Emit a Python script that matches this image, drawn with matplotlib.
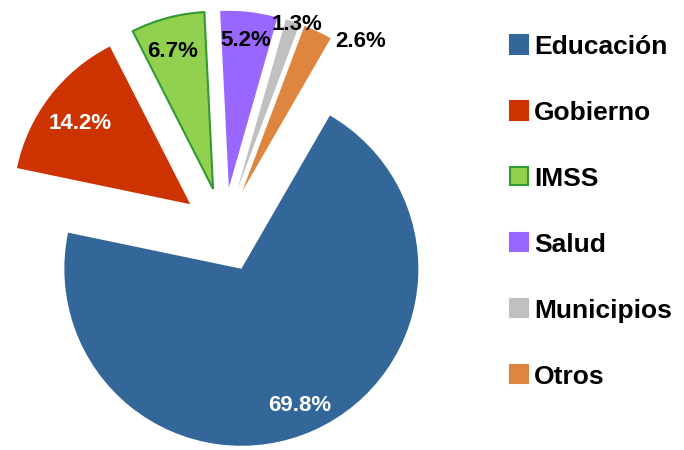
import numpy as np
import matplotlib.pyplot as plt

plt.rcParams['font.family'] = ['Liberation Sans', 'DejaVu Sans']

# datos
categorias = ['Educación', 'Gobierno', 'IMSS', 'Salud', 'Municipios', 'Otros']
porcentajes = [69.8, 14.2, 6.7, 5.2, 1.3, 2.6]
colores = ['#336699', '#CC3300', '#92D050', '#9966FF', '#C0C0C0', '#DE8640']
bordes = ['none', 'none', '#339933', 'none', 'none', 'none']

fig = plt.figure(figsize=(6.84, 4.5), dpi=100)
# 1 unidad = 177 px, centro en (224, 220) px desde abajo
r = 177
a = 1.25
ax = fig.add_axes([(224 - a * r) / 684, (220 - a * r) / 450, 2 * a * r / 684, 2 * a * r / 450])

explode = [0.24] * len(porcentajes)
wedges, _ = ax.pie(porcentajes, colors=colores, startangle=60, counterclock=False,
                   explode=explode, radius=1)
for w, b in zip(wedges, bordes):
    if b != 'none':
        w.set_edgecolor(b)
        w.set_linewidth(1.5)
ax.set_xlim(-a, a)
ax.set_ylim(-a, a)
ax.set_aspect('equal')
ax.axis('off')

# etiquetas: (distancia, desplazamiento angular, color)
pos = [(0.84, -1, 'white'), (0.77, 1, 'white'), (0.81, 1.5, 'black'),
       (0.84, 0, 'black'), (0.99, -1.5, 'black'), (1.08, -13, 'black')]
total = sum(porcentajes)
ang = 60
for w, p, (d, da, c) in zip(wedges, porcentajes, pos):
    mid = ang - p / total * 360 / 2
    ang -= p / total * 360
    cx = 0.24 * np.cos(np.radians(mid))
    cy = 0.24 * np.sin(np.radians(mid))
    t = np.radians(mid + da)
    ax.text(cx + d * np.cos(t), cy + d * np.sin(t), f'{p:.1f}%', color=c,
            ha='center', va='center', fontsize=16, fontweight='bold')

handles = [plt.Rectangle((0, 0), 1, 1, facecolor=col, edgecolor=(b if b != 'none' else col),
                         linewidth=1.5) for col, b in zip(colores, bordes)]
fig.legend(handles, categorias, loc='upper left', bbox_to_anchor=(486 / 684, 1 - 11 / 450),
           frameon=False, prop={'size': 19, 'weight': 'bold'},
           handlelength=0.68, handleheight=0.68, handletextpad=0.25, labelspacing=1.59)

fig.savefig('out.png', dpi=100)
